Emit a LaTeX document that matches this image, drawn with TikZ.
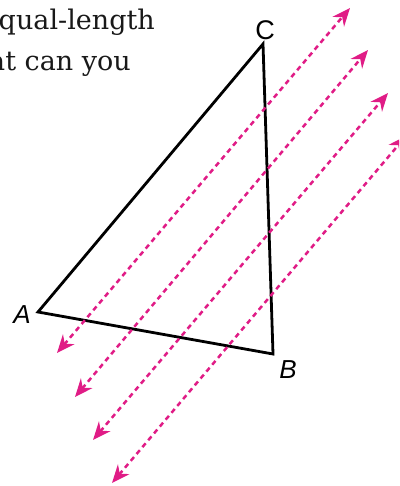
\documentclass[tikz,border=0pt]{standalone}
\usepackage{fontspec}
\setmainfont{DejaVu Serif}
\setsansfont{Liberation Sans}
\usetikzlibrary{arrows.meta}
\definecolor{ray}{RGB}{224,28,134}
\tikzset{
  raystyle/.style={draw=ray, line width=2.5pt, dash pattern=on 5pt off 4pt,
    {Stealth[length=18pt,width=15pt,inset=6pt,fill=ray]}-{Stealth[length=18pt,width=15pt,inset=6pt,fill=ray]}},
  side/.style={draw=black, line width=2.8pt, line join=miter},
  vlabel/.style={font=\fontsize{26}{26}\selectfont\sffamily\itshape, inner sep=0pt},
  body/.style={font=\fontsize{27}{27}\selectfont, inner sep=0pt, text=black!90}
}
\begin{document}
\begin{tikzpicture}[x=1pt,y=-1pt]
\useasboundingbox (0,0) rectangle (399,486);
\clip (0,0) rectangle (399,486);
\node[body, anchor=base east] (t1) at (155,30) {qual-length};
\node[body, anchor=base east] (t2) at (131,71) {at can you};
% triangle
\coordinate (A) at (38,312);
\coordinate (B) at (273,354);
\coordinate (C) at (263,44);
\draw[side] (A) -- (B) -- (C) -- cycle;
\node[vlabel] (la) at (22,315) {A};
\node[vlabel, font=\fontsize{27}{27}\selectfont\sffamily] (lc) at (265,30) {C};
\node[vlabel] (lb) at (288,370) {B};
% rays
\coordinate (p1) at (57,353);  \coordinate (q1) at (350,8);
\coordinate (p2) at (75,397);  \coordinate (q2) at (368,50);
\coordinate (p3) at (93,440);  \coordinate (q3) at (388,93);
\coordinate (p4) at (112,483); \coordinate (q4) at (406,136);
\draw[raystyle] (p1) -- (q1);
\draw[raystyle] (p2) -- (q2);
\draw[raystyle] (p3) -- (q3);
\draw[raystyle] (p4) -- (q4);
\end{tikzpicture}
\end{document}
